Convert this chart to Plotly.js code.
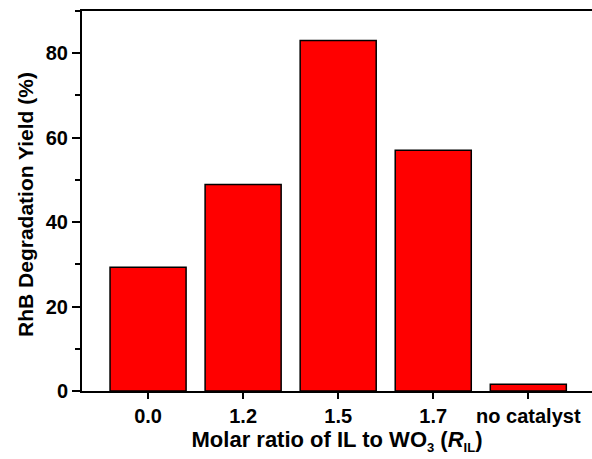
<!DOCTYPE html>
<html>
<head>
<meta charset="utf-8">
<script src="https://cdn.plot.ly/plotly-3.0.1.min.js"></script>
<style>html,body{margin:0;padding:0;background:#fff;}</style>
</head>
<body>
<div id="chart" style="width:592px;height:459px;"></div>
<script>
const categories = ["0.0", "1.2", "1.5", "1.7", "no catalyst"];
const yieldValues = [29.3, 48.9, 83.0, 57.0, 1.6];
const xTitle = '<b>Molar ratio of IL to WO<sub><span style="font-size:13px">3</span></sub> (<i>R</i><sub><span style="font-size:13px">IL</span></sub>)</b>';
const yTitle = '<b>RhB Degradation Yield (%)</b>';

const trace = {
  type: 'bar',
  x: categories,
  y: yieldValues,
  marker: {color: '#ff0000', line: {color: '#000000', width: 1.5}},
  width: 0.8,
  hoverinfo: 'x+y'
};

const fontFam = '"Liberation Sans", Arial, sans-serif';

const layout = {
  width: 592,
  height: 459,
  margin: {l: 82, r: 0, t: 11, b: 68},
  paper_bgcolor: '#ffffff',
  plot_bgcolor: '#ffffff',
  showlegend: false,
  font: {family: fontFam, color: '#000000'},
  xaxis: {
    type: 'category',
    range: [-0.695, 4.67],
    showline: true,
    linecolor: '#000000',
    linewidth: 2,
    mirror: true,
    ticks: 'outside',
    ticklen: 6,
    tickwidth: 2,
    tickcolor: '#000000',
    showgrid: false,
    zeroline: false,
    tickfont: {family: fontFam, size: 20, color: '#000000', weight: 'bold'},
    title: {
      text: xTitle,
      font: {family: fontFam, size: 22, color: '#000000'},
      standoff: 5
    }
  },
  yaxis: {
    range: [0, 90],
    tickvals: [0, 20, 40, 60, 80],
    showline: true,
    linecolor: '#000000',
    linewidth: 2,
    ticks: 'outside',
    ticklen: 8,
    tickwidth: 2,
    tickcolor: '#000000',
    minor: {tickvals: [10, 30, 50, 70, 90], ticks: 'outside', ticklen: 5, tickwidth: 2, tickcolor: '#000000', showgrid: false},
    showgrid: false,
    zeroline: false,
    tickfont: {family: fontFam, size: 20, color: '#000000', weight: 'bold'}
  },
  annotations: [{
    text: yTitle,
    xref: 'paper', yref: 'paper',
    x: -0.112, y: 0.492,
    xanchor: 'center', yanchor: 'middle',
    textangle: -90,
    showarrow: false,
    font: {family: fontFam, size: 21, color: '#000000'}
  }]
};

Plotly.newPlot('chart', [trace], layout, {staticPlot: true, displayModeBar: false});
</script>
</body>
</html>
